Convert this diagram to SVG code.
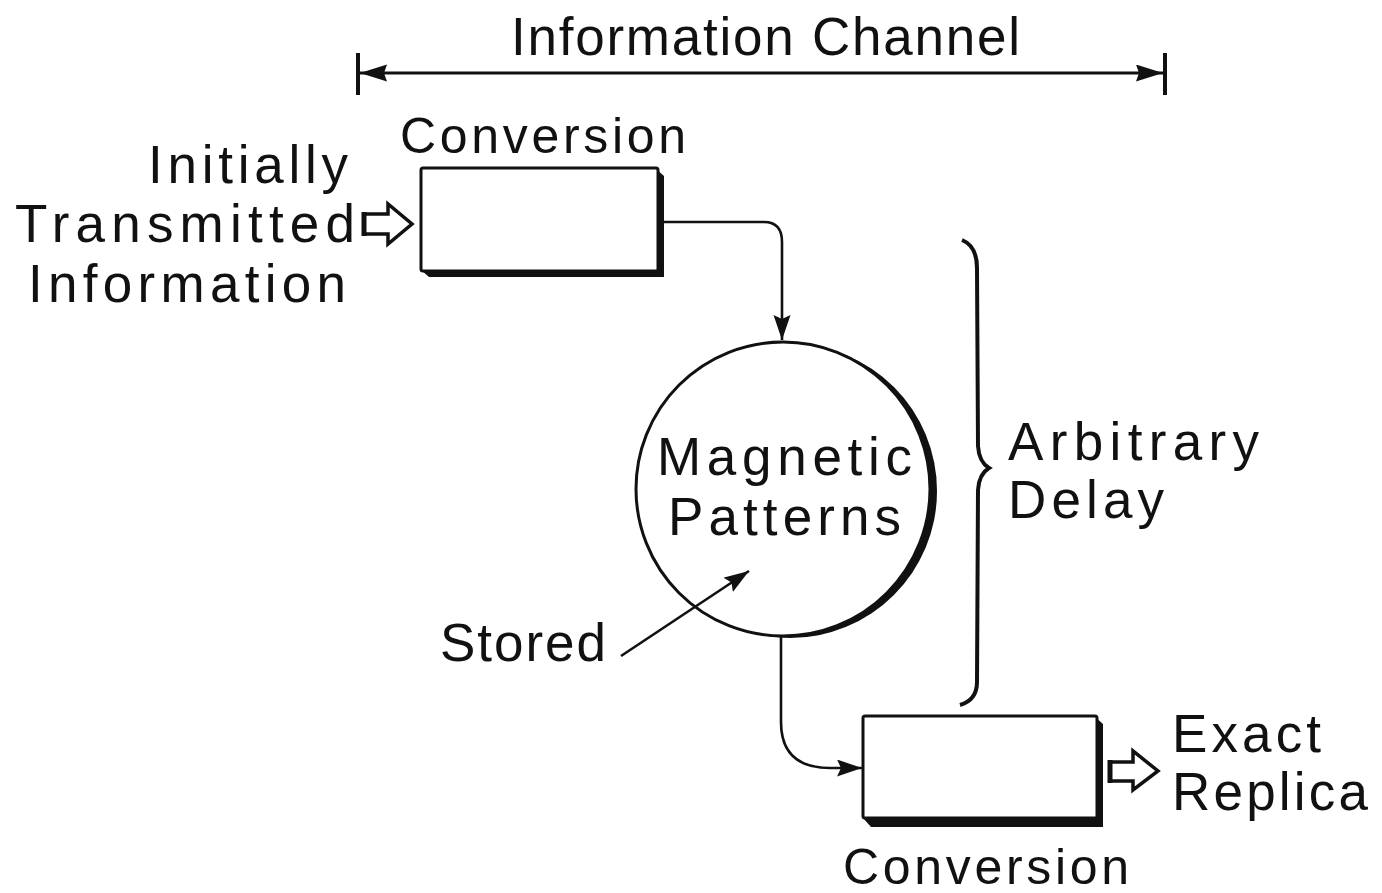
<svg xmlns="http://www.w3.org/2000/svg" width="1382" height="893" viewBox="0 0 1382 893">
  <style>
    .lbl { font-family: "Liberation Sans", Arial, sans-serif; font-size: 53px; fill: #111; }
    .cap { font-family: "Liberation Sans", Arial, sans-serif; font-size: 50px; fill: #111; }
    .ln { fill: none; stroke: #111; stroke-width: 2.6; }
    .box { fill: #fff; stroke: #111; stroke-width: 3; }
    .shadow { fill: #111; }
    .hollow { fill: #fff; stroke: #111; stroke-width: 3.5; stroke-linejoin: miter; }
  </style>
  <defs>
    <marker id="head" markerUnits="userSpaceOnUse" markerWidth="30" markerHeight="20" refX="25" refY="8.5" orient="auto">
      <path d="M0,0 L25,8.5 L0,17 L4,8.5 Z" fill="#111"/>
    </marker>
    <marker id="dimEnd" markerUnits="userSpaceOnUse" markerWidth="32" markerHeight="20" refX="27" refY="8.5" orient="auto-start-reverse">
      <path d="M0,0 L27,8.5 L0,17 L3,8.5 Z" fill="#111"/>
    </marker>
  </defs>

  <rect width="1382" height="893" fill="#fff"/>

  <!-- span of the information channel -->
  <g id="channel-span">
    <line x1="358" y1="53" x2="358" y2="95" stroke="#111" stroke-width="4"/>
    <line x1="1165" y1="53" x2="1165" y2="95" stroke="#111" stroke-width="4"/>
    <line x1="360" y1="73" x2="1163" y2="73" stroke="#111" stroke-width="3" marker-start="url(#dimEnd)" marker-end="url(#dimEnd)"/>
    <text class="lbl" x="511" y="55" textLength="509" lengthAdjust="spacing">Information Channel</text>
  </g>

  <!-- input label and hollow arrow -->
  <g id="input">
    <text class="lbl" x="148" y="183" textLength="200" lengthAdjust="spacing">Initially</text>
    <text class="lbl" x="15" y="242" textLength="340" lengthAdjust="spacing">Transmitted</text>
    <text class="lbl" x="28" y="302" textLength="318" lengthAdjust="spacing">Information</text>
    <polygon class="hollow" points="364,214 388,214 388,204 412,224 388,244 388,234 364,234"/>
    <line x1="364" y1="212" x2="364" y2="236" stroke="#111" stroke-width="5"/>
  </g>

  <!-- first conversion stage -->
  <g id="conversion-in">
    <text class="cap" x="400" y="153" textLength="286" lengthAdjust="spacing">Conversion</text>
    <polygon class="shadow" points="655,168 664,176 664,277 429,277 421,270"/>
    <rect class="box" x="421" y="168" width="237" height="103" rx="2"/>
  </g>

  <!-- storage medium -->
  <g id="magnetic-patterns">
    <circle cx="790" cy="491" r="147" class="shadow"/>
    <circle cx="783" cy="489" r="147" fill="#fff" stroke="#111" stroke-width="3"/>
    <text class="lbl" x="657" y="475" textLength="255" lengthAdjust="spacing">Magnetic</text>
    <text class="lbl" x="668" y="535" textLength="233" lengthAdjust="spacing">Patterns</text>
  </g>

  <!-- stored annotation -->
  <g id="stored">
    <text class="lbl" x="440" y="661" textLength="166" lengthAdjust="spacing">Stored</text>
  </g>

  <!-- delay brace -->
  <g id="delay">
    <path d="M962,240 Q977,246 977,268 L978,446 Q979,462 989,468 Q979,474 978,490 L977,682 Q977,700 960,705" fill="none" stroke="#111" stroke-width="4"/>
    <text class="lbl" x="1008" y="460" textLength="251" lengthAdjust="spacing">Arbitrary</text>
    <text class="lbl" x="1008" y="518" textLength="156" lengthAdjust="spacing">Delay</text>
  </g>

  <!-- second conversion stage -->
  <g id="conversion-out">
    <polygon class="shadow" points="1094,716 1103,724 1103,827 871,827 863,818"/>
    <rect class="box" x="863" y="716" width="234" height="102" rx="2"/>
    <text class="cap" x="843" y="884" textLength="286" lengthAdjust="spacing">Conversion</text>
  </g>

  <!-- output label and hollow arrow -->
  <g id="output">
    <polygon class="hollow" points="1110,762 1133,762 1133,751 1158,771 1133,790 1133,781 1110,781"/>
    <line x1="1110" y1="760" x2="1110" y2="783" stroke="#111" stroke-width="5"/>
    <text class="lbl" x="1172" y="752" textLength="149" lengthAdjust="spacing">Exact</text>
    <text class="lbl" x="1172" y="810" textLength="196" lengthAdjust="spacing">Replica</text>
  </g>

  <!-- connectors -->
  <g id="connectors">
    <path class="ln" d="M660,222 H764 Q782,222 782,242 V340" marker-end="url(#head)"/>
    <path class="ln" d="M781,637 V722 Q781,768 830,768 H862" marker-end="url(#head)"/>
    <path class="ln" d="M621,656 L749,571" marker-end="url(#head)"/>
  </g>
</svg>
